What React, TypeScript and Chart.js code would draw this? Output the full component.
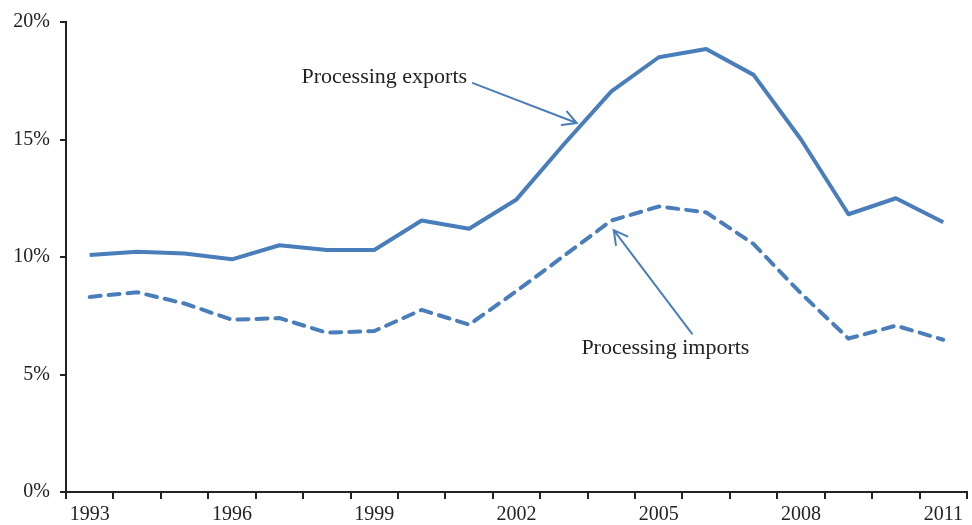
import React, { useEffect, useRef } from "react";
import { Chart, registerables } from "chart.js";

Chart.register(...registerables);

const years = ["1993","1994","1995","1996","1997","1998","1999","2000","2001","2002","2003","2004","2005","2006","2007","2008","2009","2010","2011"];
const processingExports = [10.08, 10.22, 10.15, 9.9, 10.5, 10.3, 10.3, 11.55, 11.2, 12.45, 14.8, 17.05, 18.5, 18.85, 17.75, 15.0, 11.82, 12.5, 11.48];
const processingImports = [8.3, 8.5, 8.02, 7.33, 7.4, 6.78, 6.85, 7.75, 7.12, 8.55, 10.05, 11.55, 12.15, 11.9, 10.55, 8.45, 6.53, 7.08, 6.48];
const yTicks = [0, 5, 10, 15, 20];

const labelFont = "'Liberation Serif', 'DejaVu Serif', serif";
const lineColor = "#4a7ebb";

// annotation anchors in data coordinates (category index, percent)
const exportsNote = { text: "Processing exports", textX: 8.0, textY: 17.65, fromX: 8.08, fromY: 17.4, toX: 10.27, toY: 15.7 };
const importsNote = { text: "Processing imports", textX: 12.14, textY: 6.1, fromX: 12.7, fromY: 6.74, toX: 11.05, toY: 11.14 };

const annotationPlugin = {
  id: "notes",
  afterDatasetsDraw(chart: any) {
    const { ctx, scales } = chart;
    const xs = scales.x, ys = scales.y;
    const drawArrow = (n: any) => {
      const x1 = xs.getPixelForValue(n.fromX), y1 = ys.getPixelForValue(n.fromY);
      const x2 = xs.getPixelForValue(n.toX), y2 = ys.getPixelForValue(n.toY);
      ctx.save();
      ctx.strokeStyle = lineColor;
      ctx.lineWidth = 2;
      ctx.lineCap = "round";
      ctx.beginPath();
      ctx.moveTo(x1, y1);
      ctx.lineTo(x2, y2);
      const a = Math.atan2(y2 - y1, x2 - x1);
      const L = 15, w = 0.5;
      ctx.moveTo(x2 - L * Math.cos(a - w), y2 - L * Math.sin(a - w));
      ctx.lineTo(x2, y2);
      ctx.lineTo(x2 - L * Math.cos(a + w), y2 - L * Math.sin(a + w));
      ctx.stroke();
      ctx.restore();
    };
    drawArrow(exportsNote);
    drawArrow(importsNote);
    ctx.save();
    ctx.fillStyle = "#222";
    ctx.font = "22px " + labelFont;
    ctx.textBaseline = "middle";
    ctx.textAlign = "right";
    ctx.fillText(exportsNote.text, xs.getPixelForValue(exportsNote.textX) - 2, ys.getPixelForValue(exportsNote.textY));
    ctx.textAlign = "center";
    ctx.fillText(importsNote.text, xs.getPixelForValue(importsNote.textX), ys.getPixelForValue(importsNote.textY));
    ctx.restore();
  },
};

export default function App() {
  const ref = useRef<HTMLCanvasElement | null>(null);
  useEffect(() => {
    document.body.style.margin = "0";
    const chart = new Chart(ref.current as HTMLCanvasElement, {
      type: "line",
      data: {
        labels: years,
        datasets: [
          {
            label: "Processing exports",
            data: processingExports,
            borderColor: lineColor,
            borderWidth: 4,
            pointRadius: 0,
            tension: 0,
            borderJoinStyle: "round",
          },
          {
            label: "Processing imports",
            data: processingImports,
            borderColor: lineColor,
            borderWidth: 4,
            borderDash: [11, 8],
            borderCapStyle: "round",
            pointRadius: 0,
            tension: 0,
          },
        ],
      },
      options: {
        animation: false,
        responsive: false,
        maintainAspectRatio: false,
        layout: { padding: { top: 20, right: 5, left: 0, bottom: 0 } },
        plugins: { legend: { display: false }, tooltip: { enabled: false } },
        scales: {
          x: {
            offset: true,
            grid: { offset: true, drawOnChartArea: false, tickLength: 7, color: "#222", lineWidth: 2 },
            border: { color: "#222", width: 2 },
            ticks: {
              autoSkip: false,
              maxRotation: 0,
              padding: 4,
              color: "#222",
              font: { family: labelFont, size: 20 },
              callback: (_v: any, i: number) => (i % 3 === 0 ? years[i] : ""),
            },
            afterFit: (s: any) => { s.height = 33; },
          },
          y: {
            min: 0,
            max: 20,
            afterBuildTicks: (s: any) => { s.ticks = yTicks.map((v) => ({ value: v })); },
            grid: { drawOnChartArea: false, tickLength: 6, color: "#222", lineWidth: 2 },
            border: { color: "#222", width: 2 },
            ticks: {
              padding: 10,
              color: "#222",
              font: { family: labelFont, size: 20 },
              callback: (v: any) => v + "%",
            },
            afterFit: (s: any) => { s.width = 66; },
          },
        },
      },
      plugins: [annotationPlugin],
    });
    return () => chart.destroy();
  }, []);
  return (
    <div style={{ width: 972, height: 525 }}>
      <canvas ref={ref} width={972} height={525} style={{ width: 972, height: 525, display: "block" }} />
    </div>
  );
}
